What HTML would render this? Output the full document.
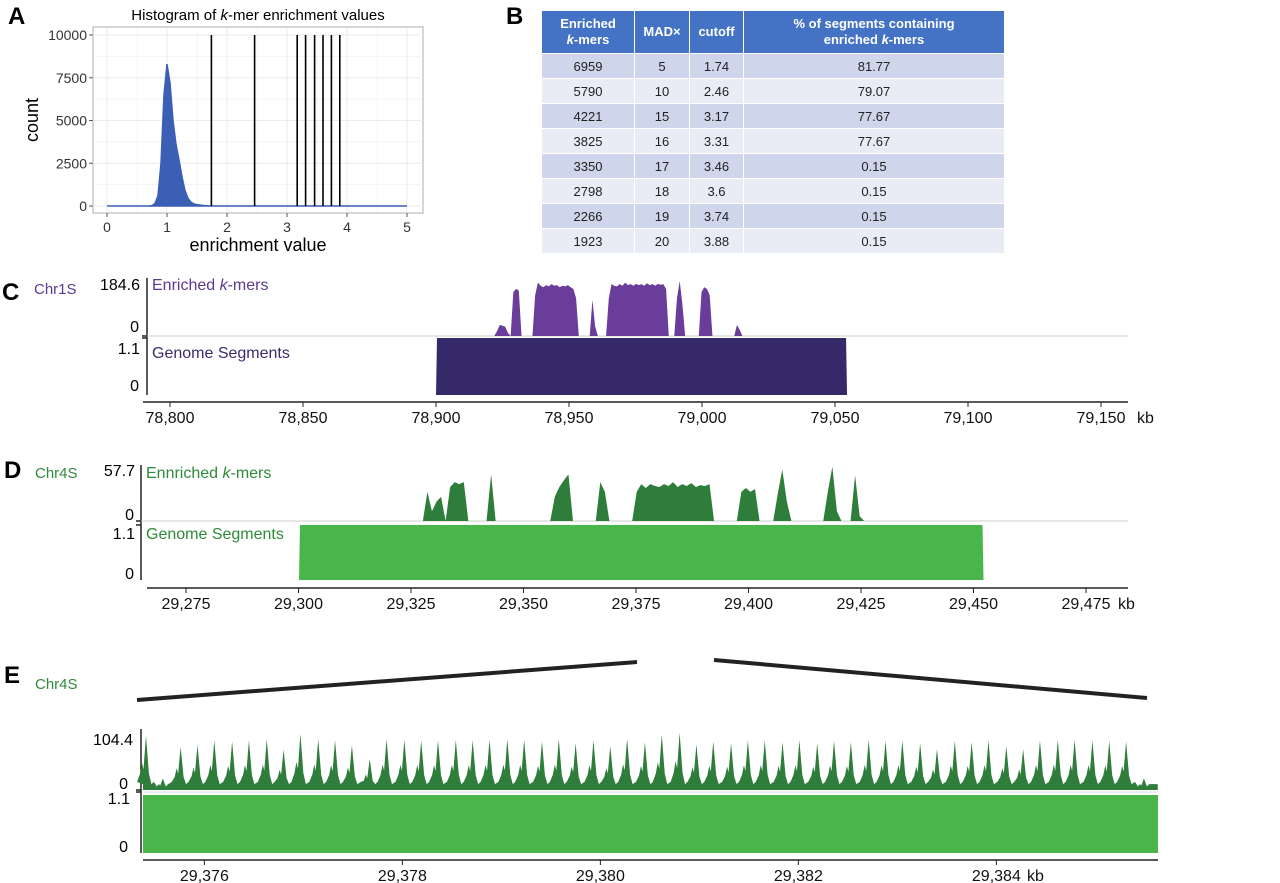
<!DOCTYPE html>
<html><head><meta charset="utf-8">
<style>
body{margin:0;background:#fff;width:1280px;height:883px;overflow:hidden;position:relative;font-family:"Liberation Sans",sans-serif}
svg{position:absolute;left:0;top:0}
table{position:absolute;left:541px;top:10px;width:464px;border-collapse:collapse;font-family:"Liberation Sans",sans-serif;font-size:13px;color:#222}
td,th{border:1px solid #fff;text-align:center;padding:0;height:24px}
th{background:#4472c4;color:#fff;font-weight:bold;height:42px;line-height:16px}
tr.o td{background:#cfd5ea}tr.e td{background:#e9ebf5}
</style></head><body>
<svg id="fig" width="1280" height="883" font-family="Liberation Sans, sans-serif"></svg>
<table>
<tr><th style="width:92px">Enriched<br><i>k</i>-mers</th><th style="width:54px">MAD×</th><th style="width:53px">cutoff</th><th>% of segments containing<br>enriched <i>k</i>-mers</th></tr>
<tr class="o"><td>6959</td><td>5</td><td>1.74</td><td>81.77</td></tr>
<tr class="e"><td>5790</td><td>10</td><td>2.46</td><td>79.07</td></tr>
<tr class="o"><td>4221</td><td>15</td><td>3.17</td><td>77.67</td></tr>
<tr class="e"><td>3825</td><td>16</td><td>3.31</td><td>77.67</td></tr>
<tr class="o"><td>3350</td><td>17</td><td>3.46</td><td>0.15</td></tr>
<tr class="e"><td>2798</td><td>18</td><td>3.6</td><td>0.15</td></tr>
<tr class="o"><td>2266</td><td>19</td><td>3.74</td><td>0.15</td></tr>
<tr class="e"><td>1923</td><td>20</td><td>3.88</td><td>0.15</td></tr>
</table>
<script>
// Panel A data
const histBins=[0.7,0.75,0.8,0.85,0.9,0.95,1.0,1.05,1.1,1.15,1.2,1.25,1.3,1.35,1.4,1.45,1.5,1.6,1.7,1.8];
const histCounts=[0,20,150,600,2500,6500,8300,7200,5000,3600,2700,1700,900,450,220,120,80,30,10,0];
const cutoffs=[1.74,2.46,3.17,3.31,3.46,3.6,3.74,3.88];
const aXTicks=[0,1,2,3,4,5];
const aYTicks=[0,2500,5000,7500,10000];
// Panel C data (kb offset from 78,920, 1 kb step)
const cStartKb=78920;
const cValues=[0,0,15,35,33,30,10,0,140,150,145,0,0,0,0,0,130,170,160,155,162,158,165,160,162,155,160,158,162,155,150,120,0,0,0,0,0,115,30,0,0,0,0,120,165,160,158,165,160,170,162,165,160,166,162,165,160,168,162,165,160,166,163,165,150,0,0,0,120,175,100,0,0,0,0,0,0,140,155,150,130,0,0,0,0,0,0,0,0,0,35,20,0];
const cSegStart=[78900],cSegEnd=[79050],cSegVal=[1.1];
const cTicks=[78800,78850,78900,78950,79000,79050,79100,79150];
// Panel D data (kb offset from 29,325)
const dStartKb=29325;
const dValues=[0,0,0,30,10,20,25,0,35,40,38,40,0,0,0,0,0,48,0,0,0,0,0,0,0,0,0,0,0,0,0,25,35,42,48,0,0,0,0,0,0,40,30,0,0,0,0,0,0,30,38,34,38,36,35,38,36,40,35,38,36,39,35,37,36,38,0,0,0,0,0,0,30,34,30,33,0,0,0,0,28,53,20,0,0,0,0,0,0,0,0,30,56,10,0,0,0,47,5,0,0];
const dSegStart=[29300],dSegEnd=[29450],dSegVal=[1.1];
const dTicks=[29275,29300,29325,29350,29375,29400,29425,29450,29475];
// Panel E data (peak positions as kb offset from 29,375)
const ePeakPos=[0.41,0.58,0.76,0.93,1.10,1.28,1.45,1.63,1.80,1.97,2.15,2.32,2.49,2.67,2.84,3.02,3.19,3.36,3.54,3.71,3.88,4.06,4.23,4.41,4.58,4.75,4.93,5.10,5.27,5.45,5.62,5.80,5.97,6.14,6.32,6.49,6.66,6.84,7.01,7.19,7.36,7.53,7.71,7.88,8.05,8.23,8.40,8.58,8.75,8.92,9.10,9.27,9.44,9.62,9.79,9.97,10.14,10.31,10.49];
const ePeakH=[93,20,74,77,85,83,85,87,69,96,87,85,77,53,87,86,85,85,86,85,86,87,86,83,87,80,85,75,88,82,95,98,78,83,80,85,85,82,85,80,84,82,86,84,85,80,70,84,82,85,75,70,85,86,86,85,84,83,20];
const eTicks=[29376,29378,29380,29382,29384];

const svg=document.getElementById('fig');
const NS='http://www.w3.org/2000/svg';
function mk(tag,attrs,parent){const e=document.createElementNS(NS,tag);for(const k in attrs)e.setAttribute(k,attrs[k]);(parent||svg).appendChild(e);return e;}
function txt(x,y,s,attrs){const t=mk('text',Object.assign({x:x,y:y},attrs||{}));t.textContent=s;return t;}
const fmt=v=>v.toLocaleString('en-US');

// ---------- Panel A ----------
const xA=v=>107+60*v, yA=c=>206-c*0.0171;
let l=txt(8,24,'A',{'font-size':24,'font-weight':'bold'});


let r=mk('rect',{x:93,y:27,width:330,height:186,fill:'#fff',stroke:'#999','stroke-width':0.8});


for(let v=0;v<=5;v+=0.5){const g=mk('line',{x1:xA(v),x2:xA(v),y1:27,y2:213,stroke:'#ebebeb','stroke-width':v%1?0.5:1});}
for(let c=0;c<=10000;c+=1250){const g=mk('line',{x1:93,x2:423,y1:yA(c),y2:yA(c),stroke:'#ebebeb','stroke-width':c%2500?0.5:1});}
let d='M'+xA(0)+','+yA(0)+' L'+xA(histBins[0])+','+yA(0);
histBins.forEach((b,i)=>{d+=' L'+xA(b)+','+yA(histCounts[i]);});
d+=' L'+xA(5)+','+yA(0)+' Z';
let h=mk('path',{d:d,fill:'#3a5fb5',stroke:'#3a5fb5','stroke-width':1.5});


cutoffs.forEach(c=>{const e=mk('line',{x1:xA(c),x2:xA(c),y1:yA(0),y2:yA(10000),stroke:'#000','stroke-width':1.6});});
aXTicks.forEach(v=>{mk('line',{x1:xA(v),x2:xA(v),y1:213,y2:217,stroke:'#555'});const t=txt(xA(v),232,String(v),{'font-size':14,'text-anchor':'middle',fill:'#333'});});
aYTicks.forEach(v=>{mk('line',{x1:89,x2:93,y1:yA(v),y2:yA(v),stroke:'#555'});const t=txt(87,yA(v)+5,String(v),{'font-size':14,'text-anchor':'end',fill:'#333'});});
let t=txt(258,20,'',{'font-size':15,'text-anchor':'middle'});
t.innerHTML='Histogram of <tspan font-style="italic">k</tspan>-mer  enrichment values';


t=txt(258,251,'enrichment value',{'font-size':18,'text-anchor':'middle'});


t=txt(0,0,'count',{'font-size':18,'text-anchor':'middle',transform:'translate(38,120) rotate(-90)'});


t=txt(506,24,'B',{'font-size':24,'font-weight':'bold'});



// ---------- Generic track helpers ----------
function bracket(x,y1,y2,ticksY){mk('line',{x1:x,x2:x,y1:y1,y2:y2,stroke:'#222','stroke-width':1.5});ticksY.forEach(y=>mk('line',{x1:x-5,x2:x,y1:y,y2:y,stroke:'#222','stroke-width':1.5}));}
function axis(x1,x2,y,ticks,xf,lbl,kbx){mk('line',{x1:x1,x2:x2,y1:y,y2:y,stroke:'#222','stroke-width':1.5});ticks.forEach(v=>{mk('line',{x1:xf(v),x2:xf(v),y1:y,y2:y+5,stroke:'#222'});const t=txt(xf(v),y+21,fmt(v),{'font-size':16,'text-anchor':'middle',fill:'#111'});});const k=txt(kbx,y+21,'kb',{'font-size':16,fill:'#111'});}

// ---------- Panel C ----------
const xC=kb=>437+(kb-78900)*2.727, yC=v=>336-v/184.6*58, ySC=v=>395-v/1.1*57;
t=txt(2,300,'C',{'font-size':24,'font-weight':'bold'});
t=txt(34,294,'Chr1S',{'font-size':15,fill:'#5b3a8f'});
txt(140,290,'184.6',{'font-size':16,'text-anchor':'end'});
txt(139,332,'0',{'font-size':16,'text-anchor':'end'});
txt(140,354,'1.1',{'font-size':16,'text-anchor':'end'});
txt(139,391,'0',{'font-size':16,'text-anchor':'end'});
bracket(147,278,395,[336,338]);
mk('line',{x1:147,x2:1128,y1:336,y2:336,stroke:'#ccc'});
d='M'+xC(cStartKb)+','+yC(0);
cValues.forEach((v,i)=>{d+=' L'+xC(cStartKb+i)+','+yC(v);});
d+=' L'+xC(cStartKb+cValues.length-1)+','+yC(0)+' Z';
let p=mk('path',{d:d,fill:'#6a3d9a'});
cSegStart.forEach((s,i)=>{const e=mk('path',{d:`M${xC(s)-1},${ySC(0)} L${xC(s)},${ySC(cSegVal[i])} L${xC(cSegEnd[i])},${ySC(cSegVal[i])} L${xC(cSegEnd[i])+1},${ySC(0)} Z`,fill:'#36296a'});});
t=txt(152,290,'',{'font-size':16,fill:'#5b3a8f'});t.innerHTML='Enriched <tspan font-style="italic">k</tspan>-mers';
t=txt(152,358,'Genome Segments',{'font-size':16,fill:'#3d2a6b'});
axis(143,1128,402,cTicks,kb=>170+(kb-78800)*2.66,'x-tick-label-c',1137);

// ---------- Panel D ----------
const xD=kb=>300+(kb-29300)*4.55, yD=v=>521-v/57.7*56, ySD=v=>580-v/1.1*55;
t=txt(4,478,'D',{'font-size':24,'font-weight':'bold'});
t=txt(35,478,'Chr4S',{'font-size':15,fill:'#2e8b3a'});
txt(135,476,'57.7',{'font-size':16,'text-anchor':'end'});
txt(134,520,'0',{'font-size':16,'text-anchor':'end'});
txt(135,539,'1.1',{'font-size':16,'text-anchor':'end'});
txt(134,579,'0',{'font-size':16,'text-anchor':'end'});
bracket(141,465,580,[521,525]);
mk('line',{x1:141,x2:1128,y1:521,y2:521,stroke:'#ccc'});
d='M'+xD(dStartKb)+','+yD(0);
dValues.forEach((v,i)=>{d+=' L'+xD(dStartKb+i)+','+yD(v);});
d+=' L'+xD(dStartKb+dValues.length-1)+','+yD(0)+' Z';
p=mk('path',{d:d,fill:'#2e7d3b'});
dSegStart.forEach((s,i)=>{const e=mk('path',{d:`M${xD(s)-1},${ySD(0)} L${xD(s)},${ySD(dSegVal[i])} L${xD(dSegEnd[i])},${ySD(dSegVal[i])} L${xD(dSegEnd[i])+1},${ySD(0)} Z`,fill:'#49b64c'});});
t=txt(146,478,'',{'font-size':16,fill:'#2e8b3a'});t.innerHTML='Ennriched <tspan font-style="italic">k</tspan>-mers';
t=txt(146,539,'Genome Segments',{'font-size':16,fill:'#2e8b3a'});
axis(147,1128,588,dTicks,kb=>186+(kb-29275)*4.5,'x-tick-label-d',1118);

// ---------- Panel E ----------
const xE=kb=>143+(kb-29375.38)*99, yE=v=>790-v/104.4*61, ySE=v=>853-v/1.1*58;
t=txt(4,683,'E',{'font-size':24,'font-weight':'bold'});
t=txt(35,689,'Chr4S',{'font-size':15,fill:'#2e8b3a'});
let zl=mk('line',{x1:137,y1:700,x2:637,y2:662,stroke:'#222','stroke-width':4});
zl=mk('line',{x1:714,y1:660,x2:1147,y2:698,stroke:'#222','stroke-width':4});
txt(133,745,'104.4',{'font-size':16,'text-anchor':'end'});
txt(128,789,'0',{'font-size':16,'text-anchor':'end'});
txt(130,804,'1.1',{'font-size':16,'text-anchor':'end'});
txt(128,852,'0',{'font-size':16,'text-anchor':'end'});
bracket(141,729,853,[790,792]);
const base=29375;
d='M'+xE(29375.38)+','+yE(0)+' L'+xE(29375.38)+','+yE(10);
ePeakPos.forEach((pp,i)=>{const k=base+pp,H=ePeakH[i];d+=` L${xE(k-0.09)},${yE(14)} L${xE(k-0.06)},${yE(H*0.3)} L${xE(k-0.04)},${yE(H*0.5)} L${xE(k-0.025)},${yE(H*0.38)} L${xE(k)},${yE(H)} L${xE(k+0.03)},${yE(H*0.3)} L${xE(k+0.055)},${yE(10)}`;});
d+=' L'+xE(29385.63)+','+yE(10)+' L'+xE(29385.63)+','+yE(0)+' Z';
p=mk('path',{d:d,fill:'#2e7d3b'});
mk('line',{x1:143,x2:1158,y1:792,y2:792,stroke:'#ddd'});
let se=mk('rect',{x:143,y:ySE(1.1),width:1015,height:ySE(0)-ySE(1.1),fill:'#49b64c'});
axis(143,1158,860,eTicks,xE,'x-tick-label-e',1027);
</script>
</body></html>
